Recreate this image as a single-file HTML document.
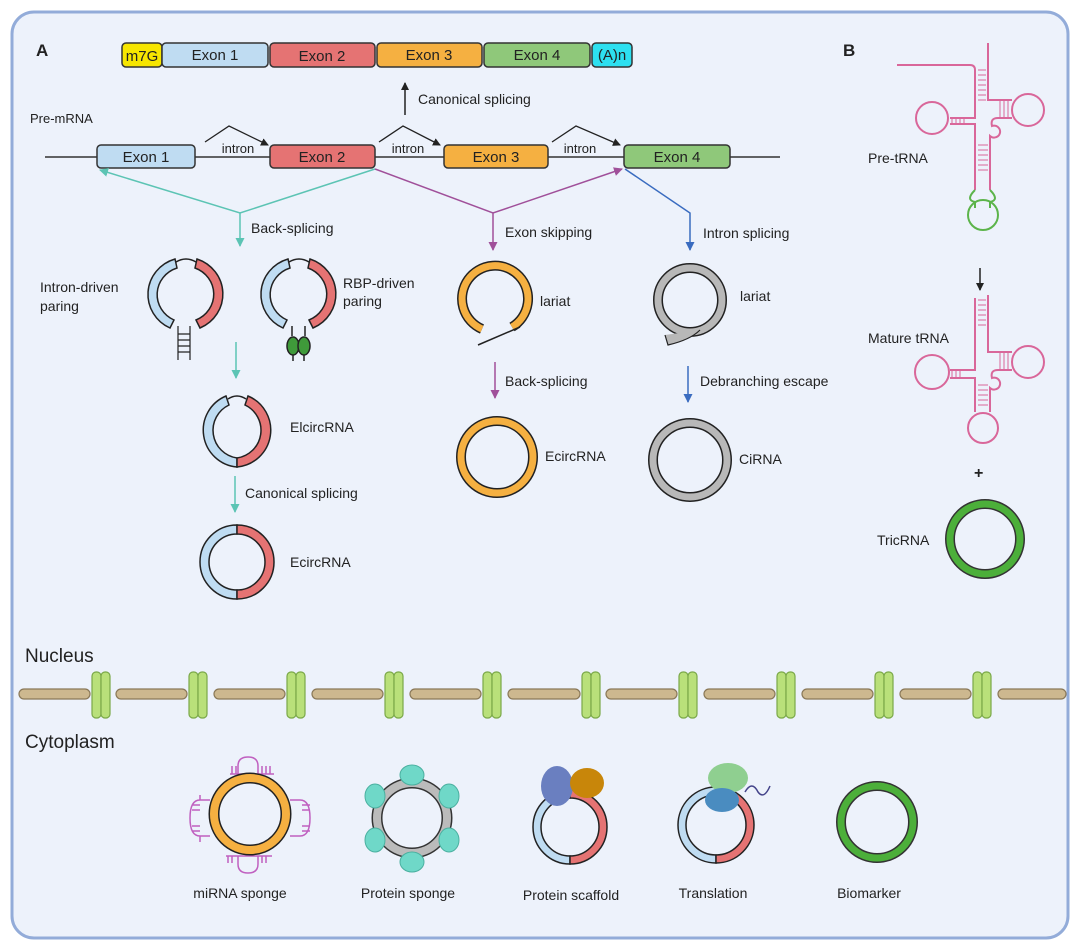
<!DOCTYPE html>
<html><head><meta charset="utf-8"><style>
body{margin:0;background:#fff;}
svg{display:block;font-family:"Liberation Sans",Arial,sans-serif;}
</style></head><body>
<svg width="1080" height="949" viewBox="0 0 1080 949" xmlns="http://www.w3.org/2000/svg">
<defs>
<marker id="ak" markerWidth="8" markerHeight="8" refX="7" refY="4" orient="auto" markerUnits="userSpaceOnUse"><path d="M0,0 L8,4 L0,8z" fill="#222"/></marker>
<marker id="at" markerWidth="9" markerHeight="9" refX="8" refY="4.5" orient="auto" markerUnits="userSpaceOnUse"><path d="M0,0 L9,4.5 L0,9z" fill="#5cc4b4"/></marker>
<marker id="ap" markerWidth="9" markerHeight="9" refX="8" refY="4.5" orient="auto" markerUnits="userSpaceOnUse"><path d="M0,0 L9,4.5 L0,9z" fill="#a0509a"/></marker>
<marker id="ab" markerWidth="9" markerHeight="9" refX="8" refY="4.5" orient="auto" markerUnits="userSpaceOnUse"><path d="M0,0 L9,4.5 L0,9z" fill="#3a6cc0"/></marker>
</defs>
<rect x="12" y="12" width="1056" height="926" rx="22" fill="#edf2fb" stroke="#93acd9" stroke-width="3"/>
<g font-size="14" fill="#222">
<text x="36" y="56" font-weight="bold" font-size="17">A</text>
<text x="843" y="56" font-weight="bold" font-size="17">B</text>
</g>
<g stroke="#333" stroke-width="1.5">
<rect x="122" y="43" width="40" height="24" rx="4" fill="#f7e600"/>
<rect x="162" y="43" width="106" height="24" rx="4" fill="#bfdcf2"/>
<rect x="270" y="43" width="105" height="24" rx="4" fill="#e57373"/>
<rect x="377" y="43" width="105" height="24" rx="4" fill="#f5b041"/>
<rect x="484" y="43" width="106" height="24" rx="4" fill="#8fc87a"/>
<rect x="592" y="43" width="40" height="24" rx="4" fill="#2de0f0"/>
</g>
<g font-size="15" fill="#222" text-anchor="middle">
<text x="142" y="61">m7G</text><text x="215" y="60">Exon 1</text><text x="322" y="61">Exon 2</text><text x="429" y="60">Exon 3</text><text x="537" y="60">Exon 4</text><text x="612" y="60">(A)n</text>
</g>
<line x1="405" y1="115" x2="405" y2="83" stroke="#222" stroke-width="1.5" marker-end="url(#ak)"/>
<text x="418" y="104" font-size="14" fill="#222">Canonical  splicing</text>
<text x="30" y="123" font-size="13" fill="#222">Pre-mRNA</text>
<line x1="45" y1="157" x2="780" y2="157" stroke="#333" stroke-width="1.5"/>
<g stroke="#333" stroke-width="1.5">
<rect x="97" y="145" width="98" height="23" rx="4" fill="#bfdcf2"/>
<rect x="270" y="145" width="105" height="23" rx="4" fill="#e57373"/>
<rect x="444" y="145" width="104" height="23" rx="4" fill="#f5b041"/>
<rect x="624" y="145" width="106" height="23" rx="4" fill="#8fc87a"/>
</g>
<g font-size="15" fill="#222" text-anchor="middle">
<text x="146" y="162">Exon 1</text><text x="322" y="162">Exon 2</text><text x="496" y="162">Exon 3</text><text x="677" y="162">Exon 4</text>
</g>
<g font-size="13" fill="#222" text-anchor="middle"><text x="238" y="153">intron</text><text x="408" y="153">intron</text><text x="580" y="153">intron</text></g>
<g fill="none" stroke="#222" stroke-width="1.3">
<path d="M205,142 L229,126 L268,145" marker-end="url(#ak)"/>
<path d="M379,142 L403,126 L440,145" marker-end="url(#ak)"/>
<path d="M552,142 L576,126 L620,145" marker-end="url(#ak)"/>
</g>
<g fill="none" stroke-width="1.5">
<path d="M375,169 L240,213 L100,170" stroke="#5cc4b4" marker-end="url(#at)"/>
<path d="M240,213 L240,246" stroke="#5cc4b4" marker-end="url(#at)"/>
<path d="M375,169 L493,213 L622,169" stroke="#a0509a" marker-end="url(#ap)"/>
<path d="M493,213 L493,250" stroke="#a0509a" marker-end="url(#ap)"/>
<path d="M625,169 L690,213 L690,250" stroke="#3a6cc0" marker-end="url(#ab)"/>
<path d="M236,342 L236,378" stroke="#5cc4b4" marker-end="url(#at)"/>
<path d="M495,362 L495,398" stroke="#a0509a" marker-end="url(#ap)"/>
<path d="M688,366 L688,402" stroke="#3a6cc0" marker-end="url(#ab)"/>
<path d="M235,476 L235,512" stroke="#5cc4b4" marker-end="url(#at)"/>
</g>
<g font-size="14" fill="#222">
<text x="251" y="233">Back-splicing</text>
<text x="505" y="237">Exon skipping</text>
<text x="703" y="238">Intron splicing</text>
<text x="40" y="292">Intron-driven</text><text x="40" y="311">paring</text>
<text x="343" y="288">RBP-driven</text><text x="343" y="306">paring</text>
<text x="540" y="306">lariat</text><text x="740" y="301">lariat</text>
<text x="505" y="386">Back-splicing</text>
<text x="700" y="386">Debranching escape</text>
<text x="290" y="432">ElcircRNA</text>
<text x="545" y="461">EcircRNA</text>
<text x="739" y="464">CiRNA</text>
<text x="245" y="498">Canonical  splicing</text>
<text x="290" y="567">EcircRNA</text>
<text x="868" y="163">Pre-tRNA</text>
<text x="868" y="343">Mature tRNA</text>
<text x="877" y="545">TricRNA</text>
<text x="974" y="478" font-weight="bold" font-size="16">+</text>
</g>
<!-- intron-driven circle -->
<g stroke="#222" stroke-width="1.5">
<path d="M175,259 A38,37 0 0 0 170,328 L174,320 A29,28 0 0 1 177,268 Z" fill="#bfdcf2"/>
<path d="M197,259 A38,37 0 0 1 200,328 L196,320 A29,28 0 0 0 195,268 Z" fill="#e57373"/>
<path d="M176,262 Q186,256 196,262" fill="none"/>
<path d="M178,326 L178,360 M190,326 L190,360 M178,334 H190 M178,340 H190 M178,346 H190 M178,352 H190" fill="none" stroke-width="1.2"/>
</g>
<g stroke="#222" stroke-width="1.5">
<path d="M288,259 A38,37 0 0 0 283,328 L287,320 A29,28 0 0 1 290,268 Z" fill="#bfdcf2"/>
<path d="M310,259 A38,37 0 0 1 313,328 L309,320 A29,28 0 0 0 308,268 Z" fill="#e57373"/>
<path d="M289,262 Q299,256 309,262" fill="none"/>
<path d="M292,326 V336 M305,326 V336" fill="none"/>
<ellipse cx="293" cy="346" rx="6" ry="9" fill="#3f9a3a"/><ellipse cx="304" cy="346" rx="6" ry="9" fill="#3f9a3a"/>
<path d="M293,355 V361 M304,355 V361" fill="none"/>
</g>
<!-- lariats -->
<path d="M482,329 A33,33 0 1 1 512,327" fill="none" stroke="#222" stroke-width="10"/>
<path d="M482,329 A33,33 0 1 1 512,327" fill="none" stroke="#f5b041" stroke-width="7"/>
<line x1="478" y1="345" x2="520" y2="327" stroke="#222" stroke-width="1.5"/>
<circle cx="690" cy="300" r="32" fill="none" stroke="#222" stroke-width="10"/>
<circle cx="690" cy="300" r="32" fill="none" stroke="#b8b8b8" stroke-width="7"/>
<path d="M665,335 L668,345 Q690,340 700,330" fill="#b8b8b8" stroke="#222" stroke-width="1.2"/>
<!-- ElcircRNA -->
<g stroke="#222" stroke-width="1.5">
<path d="M226,396 A37,37 0 0 0 237,467 L237,458 A28,28 0 0 1 229,405 Z" fill="#bfdcf2"/>
<path d="M248,396 A37,37 0 0 1 237,467 L237,458 A28,28 0 0 0 245,405 Z" fill="#e57373"/>
<path d="M228,399 Q237,393 246,399" fill="none"/>
</g>
<circle cx="497" cy="457" r="36" fill="none" stroke="#222" stroke-width="10"/>
<circle cx="497" cy="457" r="36" fill="none" stroke="#f5b041" stroke-width="7"/>
<circle cx="690" cy="460" r="37" fill="none" stroke="#222" stroke-width="10"/>
<circle cx="690" cy="460" r="37" fill="none" stroke="#b8b8b8" stroke-width="7"/>
<g stroke="#222" stroke-width="1.5">
<path d="M237,525 A37,37 0 0 0 237,599 L237,590 A28,28 0 0 1 237,534 Z" fill="#bfdcf2"/>
<path d="M237,525 A37,37 0 0 1 237,599 L237,590 A28,28 0 0 0 237,534 Z" fill="#e57373"/>
</g>
<!-- tRNAs -->
<g fill="none" stroke="#d9679a" stroke-width="2">
<path d="M897,65 H970 Q975,65 975,70 V118 H950"/>
<circle cx="932" cy="118" r="16"/>
<path d="M950,124 H975 V190"/>
<path d="M988,43 V100 H1012"/><circle cx="1028" cy="110" r="16"/><path d="M1012,118 H998 Q990,118 992,126 A6,6 0 1 1 990,136 V190"/>
<path d="M978,70 H986 M978,75 H986 M978,80 H986 M978,85 H986 M978,90 H986 M978,95 H986 M978,100 H986" stroke-width="1"/>
<path d="M952,118 V124 M956,118 V124 M960,118 V124 M964,118 V124 M1000,100 V118 M1004,100 V118 M1008,100 V118" stroke-width="1"/>
<path d="M978,145 H988 M978,150 H988 M978,155 H988 M978,160 H988 M978,165 H988 M978,170 H988" stroke-width="1"/>
</g>
<g fill="none" stroke="#5cb44a" stroke-width="2"><path d="M975,190 Q965,200 975,202 V208"/><circle cx="983" cy="215" r="15"/><path d="M990,190 Q1000,200 990,202 V208"/></g>
<line x1="980" y1="268" x2="980" y2="290" stroke="#222" stroke-width="1.5" marker-end="url(#ak)"/>
<g fill="none" stroke="#d9679a" stroke-width="2">
<path d="M975,298 V370 H950"/><circle cx="932" cy="372" r="17"/>
<path d="M950,378 H975 V412"/><circle cx="983" cy="428" r="15"/>
<path d="M988,295 V352 H1012"/><circle cx="1028" cy="362" r="16"/><path d="M1012,370 H998 Q990,370 992,378 A6,6 0 1 1 990,388 V412"/>
<path d="M978,300 H986 M978,305 H986 M978,310 H986 M978,315 H986 M978,320 H986 M978,325 H986 M978,385 H988 M978,390 H988 M978,395 H988 M978,400 H988 M978,405 H988 M952,370 V378 M956,370 V378 M960,370 V378 M1000,352 V370 M1004,352 V370 M1008,352 V370" stroke-width="1"/>
</g>
<circle cx="985" cy="539" r="35" fill="none" stroke="#333" stroke-width="10"/>
<circle cx="985" cy="539" r="35" fill="none" stroke="#4caf3a" stroke-width="7"/>
<!-- membrane -->
<text x="25" y="662" font-size="19" fill="#222">Nucleus</text>
<text x="25" y="748" font-size="19" fill="#222">Cytoplasm</text>
<g fill="#cdb88f" stroke="#8a7858" stroke-width="1.2">
<rect x="19" y="689" width="71" height="10" rx="5"/>
<rect x="116" y="689" width="71" height="10" rx="5"/>
<rect x="214" y="689" width="71" height="10" rx="5"/>
<rect x="312" y="689" width="71" height="10" rx="5"/>
<rect x="410" y="689" width="71" height="10" rx="5"/>
<rect x="508" y="689" width="72" height="10" rx="5"/>
<rect x="606" y="689" width="71" height="10" rx="5"/>
<rect x="704" y="689" width="71" height="10" rx="5"/>
<rect x="802" y="689" width="71" height="10" rx="5"/>
<rect x="900" y="689" width="71" height="10" rx="5"/>
<rect x="998" y="689" width="68" height="10" rx="5"/>
</g>
<g fill="#b9e07a" stroke="#7aa848" stroke-width="1.2">
<rect x="92" y="672" width="9" height="46" rx="4"/><rect x="101" y="672" width="9" height="46" rx="4"/>
<rect x="189" y="672" width="9" height="46" rx="4"/><rect x="198" y="672" width="9" height="46" rx="4"/>
<rect x="287" y="672" width="9" height="46" rx="4"/><rect x="296" y="672" width="9" height="46" rx="4"/>
<rect x="385" y="672" width="9" height="46" rx="4"/><rect x="394" y="672" width="9" height="46" rx="4"/>
<rect x="483" y="672" width="9" height="46" rx="4"/><rect x="492" y="672" width="9" height="46" rx="4"/>
<rect x="582" y="672" width="9" height="46" rx="4"/><rect x="591" y="672" width="9" height="46" rx="4"/>
<rect x="679" y="672" width="9" height="46" rx="4"/><rect x="688" y="672" width="9" height="46" rx="4"/>
<rect x="777" y="672" width="9" height="46" rx="4"/><rect x="786" y="672" width="9" height="46" rx="4"/>
<rect x="875" y="672" width="9" height="46" rx="4"/><rect x="884" y="672" width="9" height="46" rx="4"/>
<rect x="973" y="672" width="9" height="46" rx="4"/><rect x="982" y="672" width="9" height="46" rx="4"/>
</g>
<!-- bottom row -->
<g fill="none" stroke="#c060c0" stroke-width="1.5">
<path d="M238,774 V766 Q238,757 248,757 Q258,757 258,766 V774"/>
<path d="M230,774 H274 M232,766 V774 M236,766 V774 M262,766 V774 M266,766 V774 M270,766 V774"/>
<path d="M210,800 H200 Q190,800 190,818 Q190,836 200,836 H210 M200,795 V800 M200,836 V842 M192,805 H200 M192,810 H200 M192,826 H200 M192,831 H200"/>
<path d="M290,800 H300 Q310,800 310,818 Q310,836 300,836 H290 M302,805 H310 M302,810 H310 M302,826 H310 M302,831 H310"/>
<path d="M238,856 V864 Q238,873 248,873 Q258,873 258,864 V856 M226,856 H272 M228,856 V863 M232,856 V863 M262,856 V863 M266,856 V863"/>
</g>
<circle cx="250" cy="814" r="36" fill="none" stroke="#222" stroke-width="11"/>
<circle cx="250" cy="814" r="36" fill="none" stroke="#f5b041" stroke-width="8"/>
<circle cx="412" cy="818" r="35" fill="none" stroke="#333" stroke-width="11"/>
<circle cx="412" cy="818" r="35" fill="none" stroke="#bbb" stroke-width="8"/>
<g fill="#6fd8c8" stroke="#4bb0a0" stroke-width="1">
<ellipse cx="412" cy="775" rx="12" ry="10"/><ellipse cx="412" cy="862" rx="12" ry="10"/>
<ellipse cx="375" cy="796" rx="10" ry="12"/><ellipse cx="449" cy="796" rx="10" ry="12"/>
<ellipse cx="375" cy="840" rx="10" ry="12"/><ellipse cx="449" cy="840" rx="10" ry="12"/>
</g>
<g stroke="#222" stroke-width="1.5">
<path d="M570,790 A37,37 0 0 0 570,864 L570,856 A29,29 0 0 1 570,798 Z" fill="#bfdcf2"/>
<path d="M570,790 A37,37 0 0 1 570,864 L570,856 A29,29 0 0 0 570,798 Z" fill="#e57373"/>
</g>
<ellipse cx="557" cy="786" rx="16" ry="20" fill="#6a7fc0"/>
<ellipse cx="587" cy="783" rx="17" ry="15" fill="#c8860a"/>
<g stroke="#222" stroke-width="1.5">
<path d="M716,787 A38,38 0 0 0 716,863 L716,855 A30,30 0 0 1 716,795 Z" fill="#bfdcf2"/>
<path d="M716,787 A38,38 0 0 1 716,863 L716,855 A30,30 0 0 0 716,795 Z" fill="#e57373"/>
</g>
<ellipse cx="728" cy="778" rx="20" ry="15" fill="#8fcf90"/>
<ellipse cx="722" cy="800" rx="17" ry="12" fill="#4a8cc0"/>
<path d="M745,792 Q752,780 758,792 Q764,800 770,786" fill="none" stroke="#44448a" stroke-width="1.5"/>
<circle cx="877" cy="822" r="36" fill="none" stroke="#333" stroke-width="10"/>
<circle cx="877" cy="822" r="36" fill="none" stroke="#4caf3a" stroke-width="7"/>
<g font-size="14" fill="#222" text-anchor="middle">
<text x="240" y="898">miRNA sponge</text>
<text x="408" y="898">Protein sponge</text>
<text x="571" y="900">Protein scaffold</text>
<text x="713" y="898">Translation</text>
<text x="869" y="898">Biomarker</text>
</g>
</svg>
</body></html>
